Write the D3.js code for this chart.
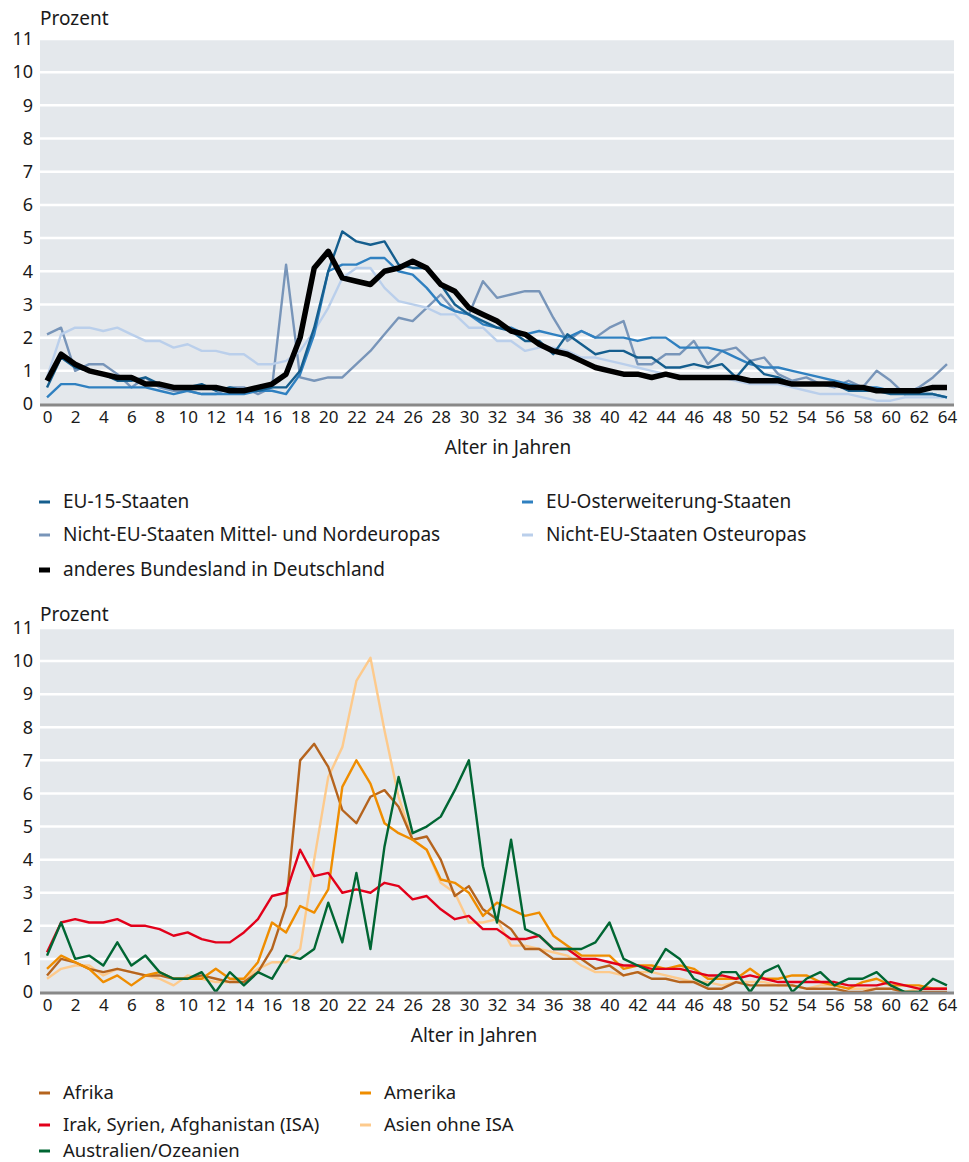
<!DOCTYPE html>
<meta charset="utf-8">
<script src="https://d3js.org/d3.v7.min.js"></script>
<style>
  body { margin: 0; background: #fff; }
  text { font-family: "Noto Sans", sans-serif; fill: #1a1a1a; }
</style>
<svg id="chart" width="969" height="1162"></svg>
<script>

// Alter 0..64
var ages = d3.range(0, 65);
var yTicks = d3.range(0, 12);
var xTicks = d3.range(0, 65, 2);

// oberes Diagramm
var eu15 = [0.5,1.4,1.1,1.0,0.9,0.7,0.7,0.8,0.6,0.5,0.5,0.6,0.4,0.5,0.4,0.4,0.5,0.5,1.0,2.3,4.0,5.2,4.9,4.8,4.9,4.2,4.1,4.1,3.6,3.0,2.7,2.5,2.3,2.2,1.9,1.9,1.5,2.1,1.8,1.5,1.6,1.6,1.4,1.4,1.1,1.1,1.2,1.1,1.2,0.8,1.3,0.9,0.8,0.6,0.6,0.6,0.6,0.4,0.4,0.4,0.3,0.3,0.3,0.3,0.2];
var euOst = [0.2,0.6,0.6,0.5,0.5,0.5,0.5,0.5,0.4,0.3,0.4,0.3,0.3,0.3,0.3,0.4,0.4,0.3,0.9,2.1,4.0,4.2,4.2,4.4,4.4,4.0,3.9,3.5,3.0,2.8,2.7,2.4,2.3,2.3,2.1,2.2,2.1,2.0,2.2,2.0,2.0,2.0,1.9,2.0,2.0,1.7,1.7,1.7,1.6,1.4,1.2,1.1,1.1,1.0,0.9,0.8,0.7,0.6,0.5,0.5,0.4,0.3,0.3,0.3,0.2];
var nichtEuNord = [2.1,2.3,1.0,1.2,1.2,0.9,0.5,0.8,0.5,0.4,0.4,0.3,0.3,0.5,0.5,0.3,0.5,4.2,0.8,0.7,0.8,0.8,1.2,1.6,2.1,2.6,2.5,2.9,3.3,2.8,2.7,3.7,3.2,3.3,3.4,3.4,2.6,1.9,2.2,2.0,2.3,2.5,1.2,1.2,1.5,1.5,1.9,1.2,1.6,1.7,1.3,1.4,0.9,0.7,0.8,0.6,0.5,0.7,0.5,1.0,0.7,0.3,0.5,0.8,1.2];
var nichtEuOst = [0.8,2.1,2.3,2.3,2.2,2.3,2.1,1.9,1.9,1.7,1.8,1.6,1.6,1.5,1.5,1.2,1.2,1.3,1.6,2.2,2.9,3.8,4.1,4.1,3.5,3.1,3.0,2.9,2.7,2.7,2.3,2.3,1.9,1.9,1.6,1.7,1.7,1.6,1.4,1.4,1.3,1.2,1.1,1.0,0.9,0.8,0.8,0.8,0.8,0.7,0.6,0.6,0.6,0.5,0.4,0.3,0.3,0.3,0.2,0.1,0.1,0.2,0.2,0.2,0.2];
var bundesland = [0.7,1.5,1.2,1.0,0.9,0.8,0.8,0.6,0.6,0.5,0.5,0.5,0.5,0.4,0.4,0.5,0.6,0.9,2.0,4.1,4.6,3.8,3.7,3.6,4.0,4.1,4.3,4.1,3.6,3.4,2.9,2.7,2.5,2.2,2.1,1.8,1.6,1.5,1.3,1.1,1.0,0.9,0.9,0.8,0.9,0.8,0.8,0.8,0.8,0.8,0.7,0.7,0.7,0.6,0.6,0.6,0.6,0.5,0.5,0.4,0.4,0.4,0.4,0.5,0.5];

// unteres Diagramm
var afrika = [0.5,1.0,0.9,0.7,0.6,0.7,0.6,0.5,0.5,0.4,0.4,0.5,0.4,0.3,0.3,0.6,1.3,2.6,7.0,7.5,6.8,5.5,5.1,5.9,6.1,5.6,4.6,4.7,4.0,2.9,3.2,2.5,2.2,1.9,1.3,1.3,1.0,1.0,1.0,0.7,0.8,0.5,0.6,0.4,0.4,0.3,0.3,0.1,0.1,0.3,0.2,0.2,0.2,0.2,0.1,0.1,0.1,0.0,0.0,0.1,0.1,0.0,0.0,0.0,0.0];
var amerika = [0.7,1.1,0.9,0.7,0.3,0.5,0.2,0.5,0.6,0.4,0.4,0.4,0.7,0.4,0.4,0.9,2.1,1.8,2.6,2.4,3.1,6.2,7.0,6.3,5.1,4.8,4.6,4.3,3.4,3.3,3.0,2.3,2.7,2.5,2.3,2.4,1.7,1.4,1.1,1.1,1.1,0.7,0.8,0.8,0.7,0.8,0.7,0.4,0.4,0.4,0.7,0.4,0.4,0.5,0.5,0.3,0.2,0.1,0.3,0.4,0.2,0.2,0.2,0.1,0.1];
var isa = [1.2,2.1,2.2,2.1,2.1,2.2,2.0,2.0,1.9,1.7,1.8,1.6,1.5,1.5,1.8,2.2,2.9,3.0,4.3,3.5,3.6,3.0,3.1,3.0,3.3,3.2,2.8,2.9,2.5,2.2,2.3,1.9,1.9,1.6,1.6,1.7,1.3,1.3,1.0,1.0,0.9,0.8,0.8,0.7,0.7,0.7,0.6,0.5,0.5,0.4,0.5,0.4,0.3,0.3,0.3,0.3,0.3,0.2,0.2,0.2,0.3,0.2,0.1,0.1,0.1];
var asien = [0.4,0.7,0.8,0.8,0.5,0.7,0.6,0.5,0.4,0.2,0.5,0.4,0.3,0.3,0.4,0.7,0.9,0.9,1.3,4.0,6.5,7.4,9.4,10.1,7.9,5.9,4.6,4.3,3.3,3.0,2.1,2.1,2.2,1.4,1.4,1.3,1.2,1.1,0.8,0.6,0.6,0.5,0.6,0.6,0.5,0.4,0.3,0.3,0.2,0.3,0.3,0.3,0.2,0.2,0.1,0.2,0.2,0.1,0.1,0.1,0.1,0.0,0.1,0.1,0.1];
var ozeanien = [1.1,2.1,1.0,1.1,0.8,1.5,0.8,1.1,0.6,0.4,0.4,0.6,0.0,0.6,0.2,0.6,0.4,1.1,1.0,1.3,2.7,1.5,3.6,1.3,4.4,6.5,4.8,5.0,5.3,6.1,7.0,3.8,2.1,4.6,1.9,1.7,1.3,1.3,1.3,1.5,2.1,1.0,0.8,0.6,1.3,1.0,0.4,0.2,0.6,0.6,0.0,0.6,0.8,0.0,0.4,0.6,0.2,0.4,0.4,0.6,0.2,0.0,0.0,0.4,0.2];

var topSeries = [
  {name: "EU-15-Staaten", values: eu15, color: "#155e8e", width: 2.4},
  {name: "EU-Osterweiterung-Staaten", values: euOst, color: "#2f80c0", width: 2.4},
  {name: "Nicht-EU-Staaten Mittel- und Nordeuropas", values: nichtEuNord, color: "#7895b9", width: 2.4},
  {name: "Nicht-EU-Staaten Osteuropas", values: nichtEuOst, color: "#bacfeb", width: 2.4},
  {name: "anderes Bundesland in Deutschland", values: bundesland, color: "#000000", width: 5.5}
];
var bottomSeries = [
  {name: "Afrika", values: afrika, color: "#b5641e", width: 2.4},
  {name: "Amerika", values: amerika, color: "#ef8d00", width: 2.4},
  {name: "Irak, Syrien, Afghanistan (ISA)", values: isa, color: "#e2001a", width: 2.4},
  {name: "Asien ohne ISA", values: asien, color: "#fdca8c", width: 2.4},
  {name: "Australien/Ozeanien", values: ozeanien, color: "#006633", width: 2.4}
];

var svg = d3.select("#chart");

var x = d3.scalePoint()
    .domain(ages)
    .range([40, 954])
    .padding(0.5);

function drawChart(top, bottom, series, drawOrder, titleCenter, labelGap) {
  var g = svg.append("g");
  var y = d3.scaleLinear().domain([0, 11]).range([bottom, top]);

  g.append("rect")
    .attr("x", 40).attr("y", y(11))
    .attr("width", 914).attr("height", y(0) - y(11))
    .attr("fill", "#e4e8ec");

  // Gitternetz
  g.selectAll(".grid")
    .data(yTicks.filter(function(d){ return d > 0; }))
    .enter().append("line")
      .attr("x1", 40).attr("x2", 954)
      .attr("y1", function(d){ return y(d); })
      .attr("y2", function(d){ return y(d); })
      .style("stroke", "#fff")
      .style("stroke-width", 2.5);

  var yAxis = g.append("g")
    .attr("transform", "translate(40,0)")
    .call(d3.axisLeft(y).tickValues(yTicks).tickSize(0).tickPadding(7));
  yAxis.select(".domain").remove();
  yAxis.selectAll("text")
    .style("font-size", "18px")
    .style("font-family", "'Noto Sans', sans-serif")
    .attr("fill", "#1a1a1a");

  var line = d3.line()
    .x(function(d, i){ return x(ages[i]); })
    .y(function(d){ return y(d); });

  drawOrder.forEach(function(idx){
    var s = series[idx];
    g.append("path")
      .datum(s.values)
      .attr("d", line)
      .style("fill", "none")
      .style("stroke", s.color)
      .style("stroke-width", s.width)
      .style("stroke-linejoin", "round");
  });

  g.append("line")
    .attr("x1", 40).attr("x2", 954)
    .attr("y1", y(0) + 1).attr("y2", y(0) + 1)
    .style("stroke", "#888")
    .style("stroke-width", 3);

  var xAxis = g.append("g")
    .attr("transform", "translate(0," + (y(0) + 2) + ")")
    .call(d3.axisBottom(x).tickValues(xTicks).tickSize(0).tickPadding(5));
  xAxis.select(".domain").remove();
  xAxis.selectAll("text")
    .style("font-size", "17px")
    .style("font-family", "'Noto Sans', sans-serif")
    .attr("fill", "#1a1a1a");

  g.append("text")
    .attr("x", 40).attr("y", y(11) - labelGap)
    .style("font-size", "19px")
    .text("Prozent");

  g.append("text")
    .attr("x", titleCenter).attr("y", y(0) + 50)
    .attr("text-anchor", "middle")
    .style("font-size", "19px")
    .text("Alter in Jahren");
}

function drawLegend(series, rows, colX, fontSize) {
  series.forEach(function(s, i){
    var row = Math.floor(i / 2), col = i % 2;
    var lx = colX[col], ly = rows[row];
    svg.append("line")
      .attr("x1", lx).attr("x2", lx + 11)
      .attr("y1", ly).attr("y2", ly)
      .style("stroke", s.color)
      .style("stroke-width", s.width > 3 ? 5 : 3);
    svg.append("text")
      .attr("x", lx + 24).attr("y", ly + 6)
      .style("font-size", fontSize + "px")
      .text(s.name);
  });
}

drawChart(39, 404, topSeries, [2, 3, 1, 0, 4], 508, 14);
drawLegend(topSeries, [502, 535, 570], [39, 522], 19);

drawChart(628, 992, bottomSeries, [3, 0, 1, 2, 4], 474, 7);
drawLegend(bottomSeries, [1093, 1125, 1151], [39, 360], 18.5);

</script>
